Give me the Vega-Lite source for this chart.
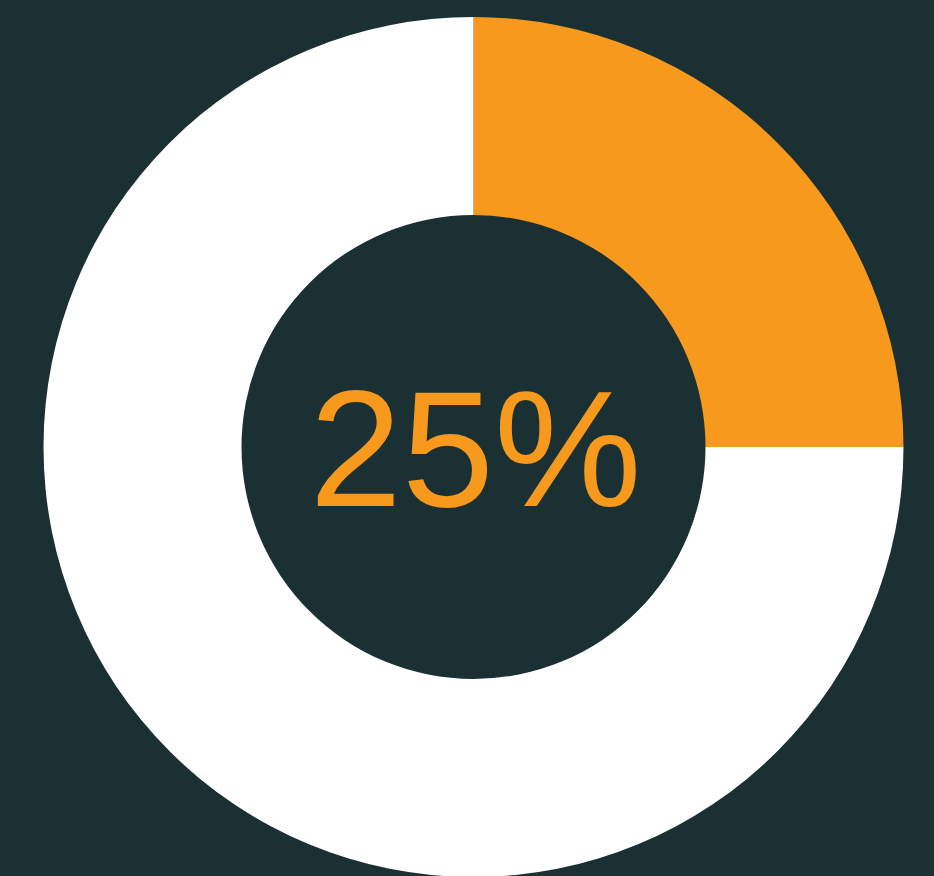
{
  "$schema": "https://vega.github.io/schema/vega-lite/v6.json",
  "autosize": {"type": "fit", "contains": "padding"},
  "width": 934,
  "height": 876,
  "padding": {"left": 13, "top": 18, "right": 0, "bottom": 0},
  "background": "#1b3033",
  "config": {"view": {"stroke": null}},
  "datasets": {
    "share": [
      {"segment": "Share", "value": 25, "order": 1},
      {"segment": "Rest", "value": 75, "order": 2}
    ],
    "label": [{"text": "25%"}]
  },
  "layer": [
    {
      "data": {"name": "share"},
      "mark": {"type": "arc", "radius": 430, "radius2": 232, "stroke": null},
      "encoding": {
        "theta": {"field": "value", "type": "quantitative", "stack": true},
        "order": {"field": "order", "type": "quantitative"},
        "color": {
          "field": "segment",
          "type": "nominal",
          "scale": {"domain": ["Share", "Rest"], "range": ["#f7991c", "#ffffff"]},
          "legend": null
        }
      }
    },
    {
      "data": {"name": "label"},
      "mark": {
        "type": "text",
        "font": "Liberation Sans",
        "fontSize": 166,
        "fontWeight": "normal",
        "color": "#f7991c",
        "align": "center",
        "baseline": "alphabetic",
        "dx": 2,
        "dy": 59
      },
      "encoding": {"text": {"field": "text", "type": "nominal"}}
    }
  ]
}
